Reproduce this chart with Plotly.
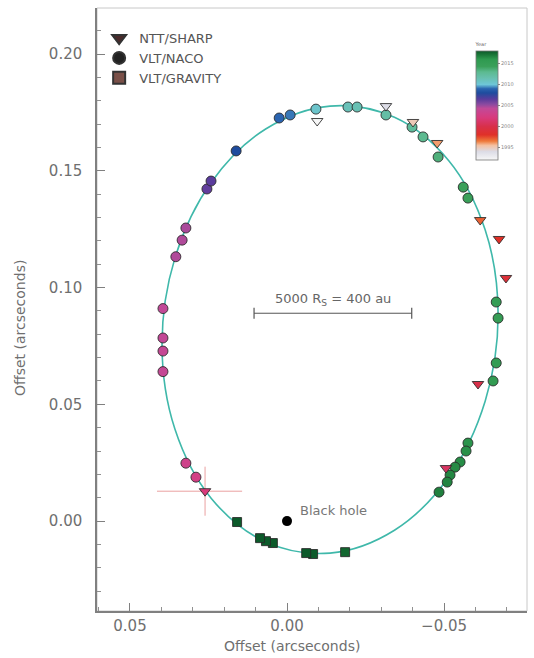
import plotly.graph_objects as go

# ---------------- data ----------------
# NTT/SHARP (triangles)
sharp_x = [-0.0096, -0.0315, -0.0401, -0.0478, -0.0615, -0.0675, -0.0697, -0.0608, -0.0506, 0.0261]
sharp_y = [0.1713, 0.1777, 0.1709, 0.1619, 0.1289, 0.1208, 0.1041, 0.0587, 0.0227, 0.0128]
sharp_year = [1992, 1994, 1995, 1996, 1997, 1998, 1999, 2000, 2001, 2002]
sharp_err_x_plus = 0.0153
sharp_err_x_minus = 0.0118
sharp_err_y = 0.0105

# VLT/NACO (circles)
naco_x = [0.0290, 0.0322, 0.0395, 0.0395, 0.0395, 0.0395, 0.0354, 0.0334, 0.0322,
          0.0255, 0.0242, 0.0162, 0.0025, -0.0010, -0.0092, -0.0194, -0.0223,
          -0.0315, -0.0398, -0.0433, -0.0481, -0.0561, -0.0576, -0.0666, -0.0672,
          -0.0666, -0.0656, -0.0576, -0.0570, -0.0551, -0.0535, -0.0519, -0.0510, -0.0484]
naco_y = [0.0188, 0.0248, 0.0640, 0.0728, 0.0784, 0.0910, 0.1132, 0.1203, 0.1255,
          0.1422, 0.1456, 0.1585, 0.1726, 0.1739, 0.1764, 0.1773, 0.1773,
          0.1739, 0.1687, 0.1645, 0.1559, 0.1430, 0.1383, 0.0938, 0.0869,
          0.0677, 0.0600, 0.0334, 0.0300, 0.0253, 0.0231, 0.0197, 0.0167, 0.0124]
naco_year = [2002.8, 2003.2, 2004.0, 2004.0, 2004.1, 2004.2, 2004.6, 2004.6, 2004.7,
             2006.3, 2006.5, 2008.0, 2009.0, 2009.2, 2010.5, 2011.2, 2011.4,
             2012.0, 2012.5, 2013.0, 2013.5, 2014.3, 2014.4, 2015.0, 2015.1,
             2015.5, 2015.6, 2016.2, 2016.3, 2016.4, 2016.5, 2016.6, 2016.7, 2016.8]

# VLT/GRAVITY (squares)
grav_x = [-0.0185, -0.0083, -0.0061, 0.0045, 0.0067, 0.0086, 0.0159]
grav_y = [-0.0133, -0.0141, -0.0137, -0.0094, -0.0086, -0.0073, -0.0004]
grav_year = [2017.6, 2018.1, 2018.2, 2018.3, 2018.35, 2018.4, 2018.5]

# best-fit orbit, points
orbit_x = [0.0398, 0.0357, 0.0241, 0.0068, -0.0137, -0.0342, -0.0515, -0.0631, -0.0672,
           -0.0631, -0.0515, -0.0342, -0.0137, 0.0068, 0.0241, 0.0357, 0.0398]
orbit_y = [0.0755, 0.1126, 0.1451, 0.1679, 0.1777, 0.1729, 0.1543, 0.1246, 0.0885,
           0.0514, 0.0189, -0.0039, -0.0137, -0.0089, 0.0097, 0.0394, 0.0755]

black_hole_x = [0.0]
black_hole_y = [0.0]

scale_bar_x = [0.0105, -0.0397]
scale_bar_y = [0.089, 0.089]
scale_bar_label = "5000 R<sub>S</sub> = 400 au"

year_min, year_max = 1992, 2018
cbar_ticks = [1995, 2000, 2005, 2010, 2015]
x_ticks = [0.05, 0.00, -0.05]
y_ticks = [0.00, 0.05, 0.10, 0.15, 0.20]

# ---------------- styling ----------------
FONT = "DejaVu Sans"
GREY = "#6f6f6f"

stops = [
    (1992, "#f7f7f7"), (1994, "#dcdce6"), (1995.5, "#f5c0a0"), (1996.5, "#ee7a3a"),
    (1998, "#e03028"), (2000, "#d8304a"), (2002, "#d83a7a"), (2003, "#d04088"),
    (2004.3, "#c04a98"), (2005.3, "#8a4aa0"), (2006.5, "#5a3c9c"), (2008, "#1e4c9e"),
    (2009, "#2a64b0"), (2010, "#6ec6d8"), (2011.5, "#68c0b0"), (2013, "#5cba90"),
    (2014.3, "#3aa05a"), (2016, "#2f9a50"), (2017, "#1c7a3a"), (2018, "#0c5a2a"),
]
colorscale = [[(y - year_min) / (year_max - year_min), c] for y, c in stops]

def mk(color_vals, symbol, size, show_scale=False):
    d = dict(color=color_vals, colorscale=colorscale, cmin=year_min, cmax=year_max,
             symbol=symbol, size=size, line=dict(color="rgba(40,40,40,0.85)", width=1))
    if show_scale:
        d.update(showscale=True, colorbar=dict(
            x=(476 - 97) / 430, xanchor="left", xpad=0,
            y=1 - (100 - 8) / 603, yanchor="middle", ypad=0,
            len=120, lenmode="pixels", thickness=22, thicknessmode="pixels",
            outlinecolor="#777", outlinewidth=0.8,
            tickvals=cbar_ticks, ticks="outside", ticklen=2, tickcolor="#888",
            tickfont=dict(size=5, color="#888", family=FONT),
            title=dict(text="Year", side="top", font=dict(size=5, color="#666", family=FONT)),
        ))
    return d

fig = go.Figure()

# orbit
fig.add_trace(go.Scatter(x=orbit_x, y=orbit_y, mode="lines",
                         line=dict(color="#3fb8aa", width=1.6, shape="spline", smoothing=1.0),
                         showlegend=False, hoverinfo="skip"))

# error cross on the last SHARP point
fig.add_trace(go.Scatter(x=[sharp_x[-1]], y=[sharp_y[-1]], mode="markers",
                         marker=dict(size=1, color="rgba(0,0,0,0)"),
                         error_x=dict(type="data", symmetric=False, array=[sharp_err_x_plus],
                                      arrayminus=[sharp_err_x_minus], color="#eaa0a0",
                                      thickness=1, width=0),
                         error_y=dict(type="data", array=[sharp_err_y], color="#eaa0a0",
                                      thickness=1, width=0),
                         showlegend=False, hoverinfo="skip"))

fig.add_trace(go.Scatter(x=grav_x, y=grav_y, mode="markers", showlegend=False,
                         marker=mk(grav_year, "square", 9)))
fig.add_trace(go.Scatter(x=naco_x, y=naco_y, mode="markers", showlegend=False,
                         marker=mk(naco_year, "circle", 10, show_scale=True)))
fig.add_trace(go.Scatter(x=sharp_x, y=sharp_y, mode="markers", showlegend=False,
                         marker=mk(sharp_year, "triangle-down", 10)))

# black hole
fig.add_trace(go.Scatter(x=black_hole_x, y=black_hole_y, mode="markers", showlegend=False,
                         marker=dict(color="black", size=10)))

# scale bar
fig.add_trace(go.Scatter(x=scale_bar_x, y=scale_bar_y, mode="lines+markers", showlegend=False,
                         line=dict(color="#555", width=1),
                         marker=dict(symbol="line-ns", size=8, line=dict(color="#555", width=1.2))))

# legend entries
for name, sym, col in [("NTT/SHARP", "triangle-down", "#4a2a2a"),
                       ("VLT/NACO", "circle", "#222222"),
                       ("VLT/GRAVITY", "square", "#7a5048")]:
    fig.add_trace(go.Scatter(x=[None], y=[None], mode="markers", name=name,
                             marker=dict(symbol=sym, size=10, color=col,
                                         line=dict(color="#333", width=1))))

axis_common = dict(showline=True, linecolor="#808080", linewidth=1.5, ticks="inside",
                   ticklen=8, tickwidth=1.2, tickcolor="#808080", showgrid=False,
                   zeroline=False, tickformat=".2f",
                   tickfont=dict(size=15, color=GREY, family=FONT))

fig.update_layout(
    width=534, height=658,
    margin=dict(l=97, r=7, t=8, b=47),
    paper_bgcolor="white", plot_bgcolor="white",
    font=dict(family=FONT, color=GREY),
    xaxis=dict(range=[0.0605, -0.0764], tickvals=x_ticks,
               minor=dict(dtick=0.01, tick0=0, ticks="inside", ticklen=4, tickcolor="#909090"),
               **axis_common),
    yaxis=dict(range=[-0.0385, 0.2197], tickvals=y_ticks, ticklabelstandoff=10,
               minor=dict(dtick=0.01, tick0=0, ticks="inside", ticklen=4, tickcolor="#909090"),
               **axis_common),
    legend=dict(x=0.005, y=0.975, xanchor="left", yanchor="top", bgcolor="rgba(0,0,0,0)",
                font=dict(size=13, color="#555", family=FONT), tracegroupgap=0,
                itemsizing="constant"),
    shapes=[dict(type="rect", xref="paper", yref="paper", x0=0, x1=1, y0=0, y1=1,
                 line=dict(color="#c8c8c8", width=1), layer="below")],
    annotations=[
        dict(text="Offset (arcseconds)", xref="paper", yref="paper",
             x=(292 - 97) / 430, y=(611 - 646) / 603, xanchor="center", yanchor="middle",
             showarrow=False, font=dict(size=14, color=GREY, family=FONT)),
        dict(text="Offset (arcseconds)", xref="paper", yref="paper",
             x=(20 - 97) / 430, y=(611 - 328) / 603, xanchor="center", yanchor="middle",
             textangle=-90, showarrow=False, font=dict(size=14, color=GREY, family=FONT)),
        dict(text="Black hole", x=-0.0035, y=0.0045, xref="x", yref="y", xanchor="left",
             yanchor="middle", showarrow=False, font=dict(size=13, color="#777", family=FONT)),
        dict(text=scale_bar_label, x=sum(scale_bar_x) / 2, y=scale_bar_y[0], xref="x", yref="y",
             xanchor="center", yanchor="bottom", yshift=3, showarrow=False,
             font=dict(size=13, color="#666", family=FONT)),
    ],
)

fig.write_html("out.html")
